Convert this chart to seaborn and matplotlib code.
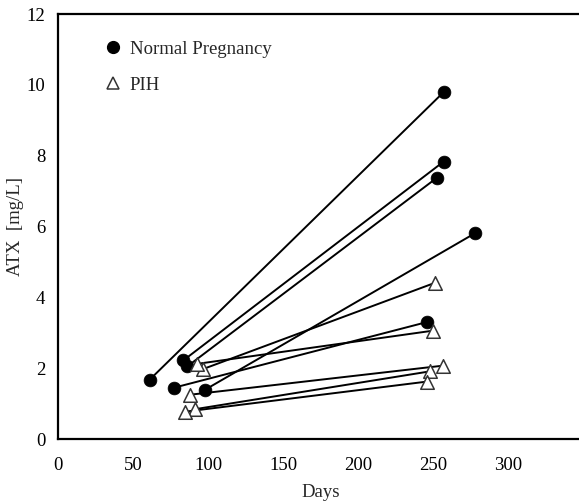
import matplotlib
matplotlib.use("Agg")
import matplotlib.pyplot as plt
import seaborn as sns
import pandas as pd
from matplotlib.lines import Line2D

# ---- data ----
np_start_day = [61, 83.6, 86.2, 98, 77.5]
np_start_atx = [1.67, 2.22, 2.05, 1.39, 1.45]
np_end_day = [257, 257, 252.4, 278, 245.8]
np_end_atx = [9.79, 7.83, 7.37, 5.81, 3.30]

pih_start_day = [96.4, 92.5, 88, 91.1, 84.5]
pih_start_atx = [1.97, 2.12, 1.25, 0.84, 0.77]
pih_end_day = [251.3, 250.2, 256.5, 248, 245.8]
pih_end_atx = [4.41, 3.06, 2.07, 1.91, 1.62]

x_ticks = [0, 50, 100, 150, 200, 250, 300]
y_ticks = [0, 2, 4, 6, 8, 10, 12]

rows = []
for i in range(len(np_start_day)):
    rows.append(dict(subj=f"N{i}", group="Normal Pregnancy", day=np_start_day[i], atx=np_start_atx[i]))
    rows.append(dict(subj=f"N{i}", group="Normal Pregnancy", day=np_end_day[i], atx=np_end_atx[i]))
for i in range(len(pih_start_day)):
    rows.append(dict(subj=f"P{i}", group="PIH", day=pih_start_day[i], atx=pih_start_atx[i]))
    rows.append(dict(subj=f"P{i}", group="PIH", day=pih_end_day[i], atx=pih_end_atx[i]))
df = pd.DataFrame(rows)

sns.set_theme(style="white")
plt.rcParams['font.family'] = ['Liberation Serif', 'DejaVu Serif']

fig = plt.figure(figsize=(5.79, 5.01), dpi=100)
ax = fig.add_axes([58 / 579, 62 / 501, 525 / 579, 425 / 501])

sns.lineplot(data=df, x="day", y="atx", units="subj", estimator=None, sort=False,
             color="black", linewidth=1.4, ax=ax, legend=False, zorder=2)

npdf = df[df.group == "Normal Pregnancy"]
pihdf = df[df.group == "PIH"]
sns.scatterplot(data=npdf, x="day", y="atx", marker="o", s=85, color="black",
                edgecolor="black", linewidth=0.5, ax=ax, zorder=3, legend=False)
sns.scatterplot(data=pihdf, x="day", y="atx", marker="^", s=95, color="white",
                edgecolor="#333333", linewidth=1.1, ax=ax, zorder=4, legend=False)

ax.set_xlim(0, 350)
ax.set_ylim(0, 12)
ax.set_xticks(x_ticks)
ax.set_yticks(y_ticks)
ax.set_xlabel("Days", fontsize=13.5, labelpad=7)
ax.set_ylabel("ATX  [mg/L]", fontsize=13.5)
ax.yaxis.set_label_coords(-0.064, 0.5)
ax.tick_params(axis="x", direction="in", length=5, width=1.5, labelsize=13.5,
               colors="black", pad=13)
ax.tick_params(axis="y", direction="in", length=5, width=1.5, labelsize=13.5,
               colors="black", pad=9)
for sp in ax.spines.values():
    sp.set_linewidth(1.6)
    sp.set_color("black")
    sp.set_visible(True)

handles = [
    Line2D([], [], marker="o", linestyle="none", markersize=8.5, markerfacecolor="black",
           markeredgecolor="black"),
    Line2D([], [], marker="^", linestyle="none", markersize=9, markerfacecolor="white",
           markeredgecolor="#333333", markeredgewidth=1.1),
]
ax.legend(handles, ["Normal Pregnancy", "PIH"], loc="upper left",
          bbox_to_anchor=(0.072, 0.955), frameon=False, fontsize=13.5,
          handlelength=1.0, handletextpad=0.4, labelspacing=1.0, borderaxespad=0)

fig.savefig("out.png", dpi=100)
